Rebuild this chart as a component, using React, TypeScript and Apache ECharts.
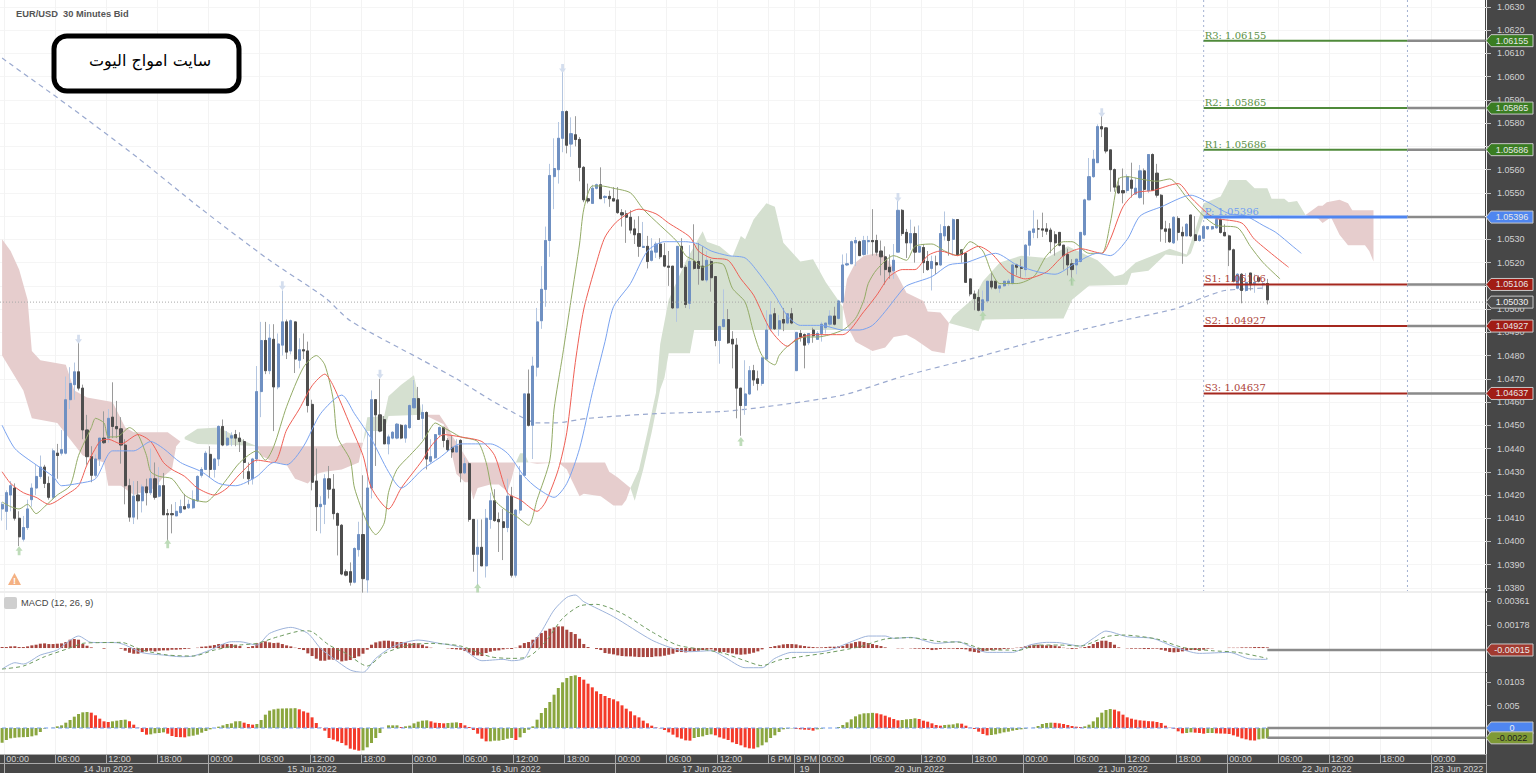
import React, { useEffect, useRef } from "react";
import * as echarts from "echarts";

// Candles in pips above 1.0000: [open, close, low, high]
const candles = [
[414,416,409,417],[413,421,405,422],[420,424,413,426],[423,410,409,425],[410,402,398,413],[401,406,400,411],[406,414,405,418],[418,423,415,425],[423,428,420,433],[428,432,427,437],
[432,425,423,433],[425,419,418,428],[419,439,418,440],[438,437,427,442],[438,439.5,437,448],[438,461,437.5,471],[461,468,457,475],[467.5,473,461,477],[473,466,465,485.5],[466,448,444,467.5],
[448,436.5,433,454.5],[436.5,428.5,425.5,441],[428.5,435.5,427.5,437.5],[435.5,444.5,432.5,444.5],[444.5,442.5,442,456],[444.5,453,442.5,457],[453.5,449.5,444.5,468.5],[449.5,448.5,444.5,460.5],[448.5,441.5,433.5,453.5],[441.5,424,416,444],
[424,410.5,408.5,427],[410.5,419.5,407.5,426],[420,417.5,409.5,426],[417.5,423.5,412.5,424.5],[423.5,421,415.5,427],[421,427,420,440],[427,419,418,434],[419.5,424,419,432],[424,411.5,411.5,429.5],[412,411.5,400.5,414],
[412,411.5,403.5,416],[411,413,411,417],[412.5,415,412,418],[415,414,414,420.5],[414.5,416,414,418],[414.5,418,414,422],[417.5,428,417,428.5],[428.5,431,427.5,432],[431,438,431,439],[437.5,431,427.5,441],
[431,435.5,427.5,436],[435.5,449.5,432.5,450],[449.5,441.5,441,452.5],[441.5,444.5,441,447.5],[444.5,445.5,441,447],[446,444.5,441,448],[444.5,443,438.5,447],[443,434,427,444],[430,427,424.5,434],[427,435.5,424.5,436],
[435.5,464.5,434,475.5],[464.5,486.5,453.5,494.5],[486.5,473.5,472,494.5],[473.5,487.5,472,493.5],[487,466.5,447.5,493.5],[466.5,485,465.5,489.5],[484.5,494.5,480,508],[494.5,481.5,478.5,495.5],[482,495,480.5,495.5],[494.5,478.5,472.5,494.5],
[478,482.5,474.5,487.5],[482.5,482,478.5,489.5],[482,458.5,455.5,486],[459,425.5,422,461],[426,415,404.5,440],[415,416,403.5,419.5],[416,427,407.5,429],[427,422.5,418.5,432.5],[422.5,412,409.5,429],[412,407,394,412.5],
[407,386,385.5,407.5],[387,385.5,385,388],[387,382.5,381,391],[382.5,397,382,397.5],[396.5,403,393.5,408.5],[403,384,378,428.5],[383.5,423,378,447],[423,461,418.5,465],[461,454.5,432.5,461],[454.5,447.5,447,470],
[452.5,442,442,454],[442,445,437.5,446],[444.5,447,444,447.5],[444.5,450.5,444,451],[450,444.5,444,450.5],[444.5,450,442.5,450.5],[449,458.5,448.5,459],[457.5,461.5,457.5,469.5],[461.5,452.5,452.5,466.5],[453,455.5,444,459],
[455.5,435.5,431,456],[434.5,436.5,433.5,444],[436,446,435.5,446],[446,449,445,449.5],[449,443.5,440.5,449.5],[443.5,439.5,438.5,444.5],[440.5,438.5,436,445.5],[438.5,441,438.5,444],[443.5,429.5,425.5,444],[429.5,433.5,429,436],
[433.5,409.5,408.5,434],[409.5,394.5,387,409.5],[394.5,397.5,381,409.5],[397.5,389.5,389.5,409.5],[389.5,410,384.5,414],[409.5,417.5,405.5,421],[417.5,409,408.5,422.5],[409.5,408.5,395.5,412.5],[408.5,406,392,414],[406,419.5,404,427],
[419.5,385.5,384.5,423.5],[385.5,413.5,384.5,414],[413.5,428.5,412,432.5],[428.5,463.5,428.5,463.5],[463.5,450,449.5,474],[450,475.5,435.5,479.5],[475,494.5,471,500.5],[495,508.5,491.5,518.5],[508.5,529.5,501,535.5],[529.5,557.5,522.5,562.5],
[557,560.5,543,573.5],[560,573.5,554,580.5],[573.5,585,567.5,602],[585,570.5,567,585.5],[571,575.5,565.5,582.5],[575,573,570,583],[573,561,555,574],[561,547,546,561.5],[547.5,546.5,545.5,554],[545.5,552,545.5,553.5],
[552,553.5,551.5,554],[553.5,547.5,547.5,561],[548,548.5,545.5,549],[548.5,547.5,544,551],[547.5,546.5,546.5,552.5],[547,541.5,541,552.5],[541.5,540.5,535.5,543],[541,539.5,528.5,542.5],[539.5,534,532.5,542.5],[534.5,532,528,538.5],
[532.5,527,522.5,540],[526.5,527,526.5,537.5],[527,520.5,517.5,531.5],[521,525,520.5,530.5],[524.5,528,522,529],[528,522.5,521.5,530.5],[523,518.5,518,528.5],[518.5,518,510,525],[518.5,500.5,500,518.5],[500.5,527,494.5,527],
[527,518,517.5,530.5],[518,502,500.5,519],[502.5,520.5,500,527.5],[520.5,517.5,517,536.5],[520.5,517.5,510.5,528.5],[518.5,512.5,512.5,527],[512.5,521,511.5,525],[520.5,513.5,507.5,521.5],[514,486.5,484,514],[486.5,492.5,476.5,493],
[492.5,495.5,492,508.5],[495.5,485.5,485,500],[487,485,474.5,490.5],[484.5,466,453,487.5],[466,458.5,445.5,466],[458.5,463.5,454.5,478],[463.5,473.5,463,475.5],[473.5,469.5,467,476],[470,468,465,473.5],[468,479,467,479.5],
[478.5,491,478.5,499.5],[491.5,497.5,490.5,503.5],[498,491.5,491,500.5],[491.5,495,488.5,497.5],[495.5,494,490.5,500.5],[494,498,493.5,498],[498,494,493.5,500.5],[473.5,490,473.5,490],[489.5,488,486,491],[489,484.5,474.5,489.5],
[485.5,489.5,484.5,489.5],[491,488.5,485.5,492],[487,489.5,487,490.5],[489.5,493.5,486,494.5],[492,494,489.5,494],[493.5,497,492.5,499.5],[497,493.5,493,501],[496,503.5,495.5,504],[503,519,502.5,523.5],[519,519.5,518.5,524],
[519.5,529,519.5,529.5],[528.5,529.5,518.5,531],[529,523,523,529.5],[523.5,529.5,523,531.5],[529,529.5,523.5,531.5],[529.5,529,523,543],[529.5,524.5,523,532],[525,522.5,514.5,529.5],[522.5,517,510.5,527],[518,516,513,523.5],
[516.5,521,513,528],[524.5,542.5,524.5,546.5],[542.5,532.5,531.5,543],[533,528.5,522,534.5],[528.5,532.5,525.5,538.5],[532.5,524.5,520,535.5],[524.5,527,524.5,536],[526.5,520,515.5,528],[520.5,517,516.5,525],[517.5,520.5,508,523],
[520,519,515,523],[519,532.5,518.5,536.5],[531.5,535.5,529.5,542],[535.5,529.5,523,536],[530,538.5,523,539],[538.5,523.5,523,538.5],[525.5,523.5,520,525.5],[524,511.5,511.5,524],[513,506.5,505.5,513],[506.5,504.5,499.5,508],
[505,499.5,499,508.5],[499.5,504,498.5,508],[503.5,512,503,512],[512,509.5,508.5,515.5],[512,509,508.5,512],[509,510,507,510],[510,512,509.5,512],[511,512,510,513],[511,519,510.5,519.5],[519,518,514.5,519.5],
[518,517.5,513.5,521.5],[517,527.5,514,528],[527.5,533.5,523,533.5],[533,534.5,530.5,542.5],[534.5,534.5,530.5,538.5],[534.5,534,531,541.5],[534.5,533.5,532,537],[534,529,524,535],[532,528.5,523,533.5],[533,527.5,527,533],
[527.5,523,517,527.5],[523.5,519,514.5,526],[519.5,517,510.5,521.5],[519,521.5,515,521.5],[520.5,533,520,533],[532,547,531.5,547.5],[547,557,547,565],[557,564.5,556.5,568.5],[563,578.5,563,579.5],[578.5,577.5,574,583],
[578,568,567,578],[568.5,560,550.5,568.5],[560,552.5,550.5,560.5],[553,550,549.5,556.5],[551,550,545.5,560.5],[551,557,550,558],[555.5,552,548,563],[549.5,552,549.5,556.5],[548,559.5,547.5,562],[559.5,551.5,545,560.5],
[551,566.5,550,566.5],[566.5,551,551,567],[558.5,549,548,562.5],[549,534.5,529,549.5],[534.5,533.5,528.5,538],[534.5,529,528.5,537],[528.5,539.5,528,540],[539,533,529.5,540],[533,531.5,519.5,535.5],[531.5,536.5,531.5,537],
[540.5,531.5,531,540.5],[532,529.5,529.5,540],[529.5,531.5,529,532],[530.5,535.5,530.5,536],[534.5,535.5,534,535.5],[534.5,535.5,534,535.5],[535,538.5,534.5,539],[538.5,533,532.5,539],[533,531.5,531.5,536.5],[531.5,525.5,518.5,532],
[525.5,512,511.5,526],[509,515,508.5,515.5],[515,508,502.5,515.5],[508,511.5,507.5,515.5],[515.5,510.5,508,515.5],[511,511.5,507,515],[513.5,512,511.5,514.5],[510.5,511,508.5,512],[511,504,502,513],
];

// Moving averages as [bar, pips] read at the turns of each curve
const fastMa = [[0,417],[2,415],[4,414],[6,416],[8,412],[10,415],[13,420],[16,424],[18,437],[21,449],[22,453],[24,451],[25,445],[27,445],[30,449],[32,446],[34,437],[35,430],[37,428],[40,427],[43,420],[45,418],[48,417],[50,420],[53,427],[56,434],[60,439],[62,435],[64,441],[67,458],[71,475],[74,480],[76,476],[78,461],[79,445],[82,435],[83,423],[86,408],[88,403],[90,408],[91,421],[93,431],[96,437],[99,443],[101,449],[102,451],[104,449],[106,447],[108,445],[112,443],[114,434],[116,418],[119,413],[121,411],[124,407],[126,418],[129,435],[130,457],[132,480],[134,504],[136,528],[137,543],[139,553],[141,553],[144,552],[148,550],[151,543],[155,536],[159,529],[161,523],[163,521],[165,518],[168,520],[170,519],[172,509],[175,503],[177,490],[179,480],[182,476],[183,480],[185,484],[189,488],[192,488],[198,491],[201,496],[203,504],[204,511],[206,517],[210,523],[213,521],[215,527],[219,528],[222,525],[225,523],[228,529],[231,525],[233,516],[235,511],[239,511],[243,514],[246,523],[250,529],[252,529],[256,524],[259,524],[261,537],[263,556],[265,557],[268,556],[272,555],[275,556],[279,548],[283,540],[286,536],[291,535],[294,527],[297,520],[301,513]];
const midMa = [[0,430],[2,425],[5,421],[8,419],[11,416],[15,420],[18,424],[20,433],[23,443],[25,444],[28,442],[32,446],[35,443],[38,434],[40,431],[43,428],[46,423],[50,420],[53,423],[56,429],[60,435],[64,434],[67,448],[70,457],[73,467],[76,472],[78,467],[82,450],[85,437],[87,423],[91,414],[94,423],[99,435],[101,441],[104,446],[108,445],[113,443],[116,437],[119,421],[122,418],[126,413],[128,417],[131,431],[133,447],[135,477],[137,500],[140,520],[142,531],[145,538],[150,543],[154,541],[157,537],[162,531],[164,525],[167,522],[171,521],[174,513],[177,506],[181,491],[185,484],[187,487],[191,489],[198,489],[203,499],[206,506],[209,514],[212,517],[215,517],[218,523],[221,525],[225,523],[230,527],[233,524],[237,516],[241,513],[246,516],[250,523],[254,526],[259,524],[261,530],[264,544],[267,550],[271,551],[277,554],[280,548],[284,541],[286,539],[292,537],[295,530],[303,518]];
const slowMa = [[0,450],[3,440],[8,433],[12,428],[14,424],[18,425],[22,427],[26,439],[31,439],[35,443],[38,440],[42,434],[47,430],[51,425],[55,424],[60,428],[64,434],[67,433],[71,441],[75,455],[80,463],[83,455],[87,444],[91,430],[94,423],[99,431],[103,436],[108,442],[115,442],[119,438],[123,428],[126,423],[130,419],[133,425],[136,440],[139,464],[142,486],[144,501],[148,511],[152,525],[156,529],[161,529],[164,528],[167,525],[171,523],[175,522],[178,516],[182,506],[185,497],[188,493],[193,493],[198,491],[202,491],[205,493],[208,499],[211,506],[213,510],[219,514],[223,519],[227,520],[234,524],[239,519],[244,516],[248,515],[253,520],[258,524],[261,523],[265,530],[268,540],[273,544],[280,549],[284,546],[289,541],[293,540],[297,536],[300,533],[304,527],[306,524]];
const longMa = [[0,608],[16,587],[32,565],[47,543],[63,521],[76,505],[82,495],[99,478],[107,470],[115,461],[123,453],[126,451],[130,451],[138,453],[154,455],[170,456],[180,458],[198,463],[212,471],[229,479],[245,487],[261,494],[276,500],[283,505],[288,508],[297,509]];

// Cloud edges as [bar, pips]
const redAUp = [[0,530],[2,525],[4,517],[6,504],[7,482],[9,478],[15,476],[17,465],[20,462],[26,460],[29,449],[31,447],[39,447],[42,443]];
const redALow = [[0,480],[5,465],[7,453],[13,451],[16,444],[19,437],[24,434],[25,424],[28,424],[31,420],[36,423],[38,428],[40,431],[41,441],[42,443]];
const greenAUp = [[43,445],[46,448.5],[51,449],[58,442.5],[60,441]];
const greenALow = [[43,444],[46,442],[55,441.5],[60,441]];
const redBUp = [[60,441],[79,441],[81,442.5],[85,442.5]];
const redBLow = [[60,441],[61,437],[64,434],[67,433],[69,427],[72,425],[74,429],[76,430],[80,431],[84,434],[85,442.5]];
const greenCUp = [[85,442.5],[86,453.5],[90,454],[91,462.5],[94,467.5],[97,471.5],[98,462.5],[99,454.5]];
const greenCLow = [[85,442.5],[86,447.5],[90,447.5],[91,454],[99,454.5]];
const redDUp = [[100,454.5],[103,454.5],[105,449],[106,445.5],[109,437],[110,434],[121,434]];
const redDLow = [[100,454],[104,450.5],[105,444],[106,437],[107,429],[109,425.5],[110,425.5],[111,418],[112,423],[115,424.5],[117,424.5],[119,421.5],[120,427],[121,434]];
const greenEUp = [[121,434],[122,438],[123,438],[124,434]];
const greenELow = [[121,434],[124,434]];
const redFUp = [[124,434],[126,433.5],[131,434],[142,434],[143,430],[145,427.5],[147,424.5],[148,423]];
const redFLow = [[124,434],[131,434],[133,431],[134,427],[136,419.5],[137,420.5],[141,419.5],[144,415.5],[146,415.5],[147,418],[148,423]];
const greenGUp = [[148,423],[150,431],[152,447],[154,464],[155,485],[157,504],[161,520.5],[165,533.5],[166,529],[169,527],[172,522.5],[174,531.5],[175,530],[177,538.5],[180,545.5],[182,544],[184,528.5],[188,520.5],[191,521.5],[194,511.5],[198,501]];
const greenGLow = [[148,423],[149,417.5],[151,431],[153,447],[155,465.5],[156,470.5],[157,481],[162,481],[163,491],[198,491]];
const redHUp = [[198,501],[199,513],[201,520],[203,523],[206,524],[208,523],[211,514],[213,507],[217,503.5],[218,499],[221,498.5],[223,494]];
const redHLow = [[198,501],[199,493],[201,486],[205,482],[208,483.5],[210,488],[213,489],[215,487],[219,482],[222,481],[223,494]];
const greenIUp = [[223,494],[224,497],[229,505],[231,512],[235,520],[240,523],[246,522],[251,527],[258,521],[262,514],[264,515],[267,520],[271,523],[275,526],[279,523.5],[281,534],[283,545.5],[287,548.5],[289,555.5],[293,555.5],[295,552],[298,552],[299,547.5],[302,547.5],[303,546],[305,546.5],[307,540.5]];
const greenILow = [[223,494],[228,491.5],[230,490.5],[231,495.5],[250,496],[252,504],[256,510],[265,510.5],[266,515.5],[270,516.5],[274,523.5],[279,522.5],[280,524],[283,540],[307,540.5]];
const redJUp = [[307,540.5],[310,544.5],[311,544.5],[312,546],[315,547],[317,545.5],[318,542.5],[323,542.5]];
const redJLow = [[307,540.5],[310,539],[311,537],[313,539.5],[315,532],[317,527.5],[321,527.5],[322,525],[323,520.5]];
const cloudBands = [[redAUp,redALow,0],[greenAUp,greenALow,1],[redBUp,redBLow,0],[greenCUp,greenCLow,1],[redDUp,redDLow,0],[greenEUp,greenELow,1],[redFUp,redFLow,0],[greenGUp,greenGLow,1],[redHUp,redHLow,0],[greenIUp,greenILow,1],[redJUp,redJLow,0]];

// Fractal arrows as [bar, pips]
const arrowsDown = [[18,487],[66,510],[89,472],[132,603.5],[211,548],[259,584.5]];
const arrowsUp = [[4,396],[39,399],[112,380],[174,443],[231,497],[252,512]];

// Pivot levels
const pivotNames = ["R3","R2","R1","P","S1","S2","S3"];
const pivotValues = [1.06155,1.05865,1.05686,1.05396,1.05106,1.04927,1.04637];
const pivotStartBar = 283;
const pivotEndBar = 331;
const lastBar = 298;
const lastPrice = 1.0503;

// MACD panel, in units of MACD_UNIT
const MACD_UNIT = 2.574e-5;
const macdHist = [
3,3,5,5,3,3,5,8,10,13,
14,12,12,13,14,18,25,27,25,12,
7,2,0,0,-2,0,0,0,-2,-8,
-14,-17,-17,-13,-10,-8,-10,-8,-7,-7,
-5,-5,-4,-3,-2,0,1,4,5,7,
9,12,12,12,12,10,6,0,3,6,
14,17,20,17,15,16,12,8,5,1,
-3,-6,-16,-24,-32,-38,-38,-35,-35,-35,
-40,-38,-36,-30,-25,-17,-5,10,17,20,
22,22,20,18,18,17,14,15,14,10,
5,1,0,0,0,-1,-3,-4,-5,-9,
-14,-22,-22,-24,-15,-11,-8,-7,-4,-2,
-3,1,8,15,18,25,33,45,52,58,
62,65,65,55,48,42,28,12,3,0,
-3,-6,-15,-17,-19,-22,-24,-25,-25,-26,
-27,-27,-27,-27,-25,-25,-23,-20,-17,-12,
-12,-13,-10,-10,-8,-6,-5,-4,-8,-12,
-12,-14,-16,-19,-20,-19,-17,-14,-10,-4,
0,3,6,8,11,12,12,11,8,6,
4,3,2,2,3,4,4,5,6,12,
14,18,20,18,15,12,9,6,2,0,
0,-1,-1,0,-1,-2,-2,-3,-3,-6,
-5,-3,-2,-2,-2,-3,-3,-4,-10,-12,
-14,-10,-8,-6,-5,-5,-3,-2,-1,1,
2,5,8,10,10,9,8,9,7,5,
1,-1,-3,-2,1,3,6,12,18,22,
22,18,10,2,0,-1,-2,-2,-2,-3,
-3,-2,-2,-5,-8,-12,-13,-12,-10,-8,
-6,-6,-8,-5,-2,-1,0,0,0,1,
1,1,2,2,2,3,3,3,2];
const macdLine = [[0,-63],[3,-44],[5,-48],[9,-21],[13,-6],[15,14],[18,36],[21,17],[27,16],[29,9],[33,-14],[38,-21],[42,-26],[45,-24],[49,-6],[54,19],[56,19],[60,9],[63,44],[68,62],[72,44],[75,-1],[78,-31],[82,-66],[85,-73],[88,-31],[92,4],[98,24],[103,14],[108,2],[113,-38],[118,-34],[120,-38],[123,-31],[125,14],[127,49],[130,114],[133,152],[135,159],[137,139],[144,94],[153,24],[158,-1],[162,-11],[167,-8],[170,-26],[175,-59],[179,-59],[182,-31],[186,-13],[191,-13],[195,-6],[201,24],[204,36],[208,36],[210,29],[214,32],[220,14],[225,19],[229,-1],[232,-13],[238,-13],[242,9],[246,17],[249,16],[254,6],[257,29],[260,51],[265,34],[271,29],[276,4],[282,-16],[289,-13],[294,-33],[298,-34]];
const macdSignal = [[0,-63],[5,-54],[10,-26],[15,-4],[19,14],[22,16],[28,17],[33,-6],[39,-21],[45,-24],[50,-6],[56,9],[60,14],[65,34],[71,52],[73,49],[77,9],[81,-16],[86,-54],[90,-16],[96,9],[101,14],[108,6],[115,-26],[120,-31],[124,-26],[128,19],[132,89],[136,126],[140,131],[146,104],[153,49],[159,9],[166,-6],[170,-16],[175,-38],[179,-53],[183,-36],[188,-26],[195,-13],[202,4],[208,27],[214,31],[221,19],[226,17],[232,-6],[237,-6],[239,-8],[244,9],[249,9],[254,6],[260,34],[264,39],[272,27],[278,2],[285,-8],[291,-13],[298,-31]];
const macdTicks = [0.00178,0.00361];
const macdLast = -0.00015;

// Lower oscillator, in units of OSC_UNIT
const OSC_UNIT = 7.464e-5;
const oscBars = [
-44,-36,-31,-29,-28,-27.5,-27,-25,-22,-12,
-2,0,1,5,8,16,24,34,42,47,
48,46,38,28,20,18,20,22,24,25,
20,10,1,-12,-20,-19,-16,-15,-13,-17,
-24,-27,-27.5,-28,-25,-23,-20,-14,-9,-4,
0,4,8,12,14,20,20.5,16,12,10,
12,24,40,52,56,58,58.5,59,59,59.5,
56,50,46,32,15,1,-8,-30,-35,-40,
-45,-52,-62,-65,-68,-67,-58,-45,-30,-15,
0,8,8,8,3,5,7,14,19,22,
23,20,16,15,14,15,16,17,15,8,
3,-6,-17,-32,-40,-40,-38,-38,-36,-32,
-30,-36,-28,-15,-5,5,25,45,60,78,
100,120,137,150,156,158,153,145,133,122,
110,102,96,90,86,80,68,58,50,38,
32,22,14,7,2,-1,-6,-13,-20,-28,
-32,-37,-38,-30,-27,-25,-21,-19,-22,-28,
-32,-36,-43,-48,-52,-58,-61,-62,-58,-52,
-43,-30,-22,-12,-4,-2,-1,-3,-4,-5,
-5.5,-8,-4,-2,0,0,0,3,9,17,
26,35,41,44,44.5,45.5,44,41,37,32,
27,23,24,26,27,29,27,22,19,14,
9,7,9,10,11,14,13,7,1,-3,
-11,-18,-22,-21,-19,-16,-13,-11,-8,-6,
-4,-2,0,1,6,12,15,16,15.5,14,
12,9,6,4,3,5,10,20,32,46,
54,57,55,50,40,32,28,25,23,22,
20.5,20,18,15,7,1,-2,-10,-16,-15,
-13,-14,-15,-17,-15,-15,-16,-16.5,-17,-18,
-22,-26,-31,-34,-37,-37.5,-34,-32,-31];
const oscTicks = [0.005,0.0103];
const oscLast = -0.0022;

// Axis ticks
const priceTicks = [1.038,1.039,1.04,1.041,1.042,1.043,1.044,1.045,1.046,1.047,1.048,1.049,1.05,1.051,1.052,1.053,1.054,1.055,1.056,1.057,1.058,1.059,1.06,1.061,1.062,1.063];
// Tick labels that the pivot tags cover completely in the reference are not drawn
const coveredPriceLabels = [1.051,1.054,1.057];
const timeTicks: [number,string][] = [[1,"00:00"],[13,"06:00"],[25,"12:00"],[37,"18:00"],[49,"00:00"],[61,"06:00"],[73,"12:00"],[85,"18:00"],[97,"00:00"],[109,"06:00"],[121,"12:00"],[133,"18:00"],[145,"00:00"],[157,"06:00"],[169,"12:00"],[181,"6 PM"],[187,"9 PM"],[193,"00:00"],[205,"06:00"],[217,"12:00"],[229,"18:00"],[241,"00:00"],[253,"06:00"],[265,"12:00"],[277,"18:00"],[289,"00:00"],[301,"06:00"],[313,"12:00"],[325,"18:00"],[337,"00:00"]];
const dayLabels: [number,string][] = [[25,"14 Jun 2022"],[73,"15 Jun 2022"],[121,"16 Jun 2022"],[166,"17 Jun 2022"],[189,"19"],[216,"20 Jun 2022"],[264,"21 Jun 2022"],[312,"22 Jun 2022"],[343,"23 Jun 2022"]];
const dayTicks = [1,49,97,145,187,193,241,289,337];
const BAR_SLOTS = 350;

const FONT = '"Liberation Sans", Arial, sans-serif';
const px = (p: number) => 1 + p / 10000;
const toPrice = (rows: number[][]) => rows.map((r) => [r[0], px(r[1])]);

function makeCategories(list: [number,string][]) {
  const out = new Array(BAR_SLOTS).fill("");
  list.forEach(([i, t]) => { out[i] = t; });
  return out;
}

function tagShape(api: any, params: any, value: number, text: string, fill: string, color: string) {
  const y = api.coord([lastBar, value])[1];
  const R = params.coordSys.x + params.coordSys.width - 1;
  return [
    { type: "polygon", z2: 20, shape: { points: [[R + 1, y], [R + 6, y - 6], [R + 48, y - 6], [R + 48, y + 6], [R + 6, y + 6]] }, style: { fill, stroke: "#c8c8c8", lineWidth: 1 } },
    { type: "text", z2: 21, style: { text, x: R + 27, y, fill: color, font: "9px " + FONT, align: "center", verticalAlign: "middle" } },
  ];
}

function tailSeries(grid: number, rows: [number,string,string,string][], startBar: number) {
  return {
    type: "custom", xAxisIndex: grid, yAxisIndex: grid, silent: true, z: 12, clip: false,
    data: rows.map((r) => [startBar, r[0]]),
    renderItem: (params: any, api: any) => {
      const row = rows[params.dataIndex];
      const p = api.coord([startBar, row[0]]);
      const R = params.coordSys.x + params.coordSys.width - 1;
      return {
        type: "group",
        children: [
          { type: "line", shape: { x1: p[0], y1: p[1], x2: R, y2: p[1] }, style: { stroke: "#8a8a8a", lineWidth: 2.5 } },
          ...tagShape(api, params, row[0], row[1], row[2], row[3]),
        ],
      };
    },
  };
}

export default function App() {
  const ref = useRef<HTMLDivElement>(null);
  useEffect(() => {
    document.body.style.margin = "0";
    const chart = echarts.init(ref.current!, undefined, { renderer: "svg" });
    const timeCats = makeCategories(timeTicks);
    const dayCats = makeCategories(dayLabels);
    const timeSet = new Set(timeTicks.map((t) => t[0]));
    const daySet = new Set(dayTicks);
    const dayLabelSet = new Set(dayLabels.map((t) => t[0]));
    const isTime = (i: number) => timeSet.has(i);
    const grid = (top: number, height: number) => ({ left: -3, width: 1489, top, height });
    const plainX = (gridIndex: number) => ({
      type: "category", gridIndex, data: timeCats, boundaryGap: true,
      axisLine: { show: false, onZero: false }, axisTick: { show: false }, axisLabel: { show: false },
      splitLine: { show: true, interval: isTime, lineStyle: { color: "#f3f3f3", width: 1 } },
    });
    const rightY = (gridIndex: number, min: number, max: number, ticks: number[], labels: number[], fmt: (v: number) => string, splits: boolean) => ({
      type: "value", gridIndex, position: "right", min, max, scale: true,
      axisLine: { show: false, onZero: false },
      axisTick: { show: true, length: 5, customValues: ticks, lineStyle: { color: "#bbb" } },
      axisLabel: { customValues: labels, formatter: fmt, margin: 11, color: "#d2d2d2", fontSize: 9, fontFamily: FONT, showMinLabel: true, showMaxLabel: true },
      splitLine: { show: splits, lineStyle: { color: "#f5f5f5", width: 1 } },
    });
    const maLine = (rows: number[][], color: string) => ({
      type: "line", data: toPrice(rows), xAxisIndex: 0, yAxisIndex: 0, showSymbol: false, smooth: 0.25, silent: true, z: 6,
      lineStyle: { color, width: 1 },
    });
    const pivotColor = (i: number) => (i < 3 ? "#4f8a3a" : i === 3 ? "#4f86f0" : "#a5281f");
    const pivotText = (i: number) => (i < 3 ? "#5a9144" : i === 3 ? "#6f9cf2" : "#ad3f38");
    const tagFill = (i: number) => (i < 3 ? "#3a7d22" : i === 3 ? "#4f86f0" : "#a11d15");

    chart.setOption({
      animation: false,
      backgroundColor: "#ffffff",
      grid: [grid(0, 591), grid(593, 79), grid(673, 81), grid(763, 10)],
      xAxis: [
        plainX(0),
        plainX(1),
        {
          ...plainX(2),
          axisLine: { show: true, onZero: false, lineStyle: { color: "#aaa" } },
          axisTick: { show: true, interval: isTime, length: 9, lineStyle: { color: "#aaa" } },
          axisLabel: { show: true, interval: isTime, color: "#d2d2d2", fontSize: 9, fontFamily: FONT, align: "left", verticalAlign: "top", margin: 0 },
        },
        {
          type: "category", gridIndex: 3, data: dayCats, position: "top", boundaryGap: true,
          axisLine: { show: true, onZero: false, lineStyle: { color: "#aaa" } },
          axisTick: { show: true, inside: true, interval: (i: number) => daySet.has(i), length: 10, lineStyle: { color: "#aaa" } },
          axisLabel: { show: true, inside: true, interval: (i: number) => dayLabelSet.has(i), color: "#d2d2d2", fontSize: 9, fontFamily: FONT, align: "center", verticalAlign: "top", margin: 1 },
          splitLine: { show: false },
        },
      ],
      yAxis: [
        rightY(0, 1.03787, 1.0633, priceTicks, priceTicks.filter((t) => !coveredPriceLabels.includes(t)), (v: number) => v.toFixed(4), true),
        rightY(1, -0.00185, 0.00425, macdTicks, macdTicks, (v: number) => v.toFixed(5), false),
        rightY(2, -0.00582, 0.012315, oscTicks, oscTicks, (v: number) => String(v), false),
        { type: "value", gridIndex: 3, show: false },
      ],
      graphic: [
        { type: "rect", z: -1, silent: true, shape: { x: 1485, y: 0, width: 51, height: 773 }, style: { fill: "#474747" } },
        { type: "rect", z: -1, silent: true, shape: { x: 0, y: 754, width: 1485, height: 19 }, style: { fill: "#474747" } },
        { type: "rect", z: -1, silent: true, shape: { x: 0, y: 591.5, width: 1485, height: 1 }, style: { fill: "#dedede" } },
        { type: "rect", z: -1, silent: true, shape: { x: 0, y: 672, width: 1485, height: 1 }, style: { fill: "#dedede" } },
        { type: "text", z: 30, silent: true, style: { text: "EUR/USD  30 Minutes Bid", x: 16, y: 14, fill: "#555", font: "bold 9.3px " + FONT, verticalAlign: "middle" } },
        { type: "rect", z: 30, silent: true, shape: { x: 54, y: 36, width: 185, height: 55, r: 13 }, style: { fill: "#fff", stroke: "#000", lineWidth: 5 } },
        { type: "text", z: 31, silent: true, style: { text: "سايت امواج اليوت", x: 150, y: 60, fill: "#000", font: '16px "DejaVu Sans"', align: "center", verticalAlign: "middle" } },
        { type: "polygon", z: 30, silent: true, shape: { points: [[14.5, 573], [21, 585], [8, 585]] }, style: { fill: "#f4b183" } },
        { type: "text", z: 31, silent: true, style: { text: "!", x: 14.5, y: 580.5, fill: "#fff", font: "bold 9px " + FONT, align: "center", verticalAlign: "middle" } },
        { type: "rect", z: 30, silent: true, shape: { x: 4, y: 597, width: 13, height: 12, r: 2 }, style: { fill: "#cfcfcf" } },
        { type: "text", z: 30, silent: true, style: { text: "MACD (12, 26, 9)", x: 21, y: 603, fill: "#444", font: "9.3px " + FONT, verticalAlign: "middle" } },
      ],
      series: [
        {
          type: "custom", xAxisIndex: 0, yAxisIndex: 0, silent: true, z: 1,
          data: cloudBands.map((b, i) => [i]),
          renderItem: (params: any, api: any) => {
            const band: any = cloudBands[params.dataIndex];
            const pts = [...band[0], ...[...band[1]].reverse()].map((p: number[]) => api.coord([p[0], px(p[1])]));
            return { type: "polygon", shape: { points: pts }, style: { fill: band[2] ? "#d5e0d0" : "#e6cdcd" } };
          },
        },
        {
          type: "custom", xAxisIndex: 0, yAxisIndex: 0, silent: true, z: 2,
          data: [[pivotStartBar], [pivotEndBar]],
          renderItem: (params: any, api: any) => {
            const x = api.coord([api.value(0), 1.05])[0];
            const cs = params.coordSys;
            return { type: "line", shape: { x1: x, y1: cs.y, x2: x, y2: cs.y + cs.height }, style: { stroke: "#a3b1d1", lineWidth: 1, lineDash: [2, 3] } };
          },
        },
        {
          type: "line", data: toPrice(longMa), xAxisIndex: 0, yAxisIndex: 0, showSymbol: false, smooth: 0.25, silent: true, z: 3,
          lineStyle: { color: "#9aa9cf", width: 1.2, type: [5, 4] },
        },
        {
          type: "candlestick", xAxisIndex: 0, yAxisIndex: 0, silent: true, z: 4, barWidth: 2,
          data: candles.map((c) => c.map(px)),
          itemStyle: { color: "#b4c6e0", color0: "#9a9a9a", borderColor: "#b4c6e0", borderColor0: "#9a9a9a", borderColorDoji: "#9a9a9a", borderWidth: 1 },
        },
        {
          type: "candlestick", xAxisIndex: 0, yAxisIndex: 0, silent: true, z: 5, barWidth: 2.6,
          data: candles.map((c) => [px(c[0]), px(c[1]), px(Math.min(c[0], c[1])), px(Math.max(c[0], c[1]))]),
          itemStyle: { color: "#6f90c2", color0: "#4e4e4e", borderColor: "#6f90c2", borderColor0: "#4e4e4e", borderColorDoji: "#4e4e4e", borderWidth: 1 },
        },
        maLine(fastMa, "#93ab66"),
        maLine(midMa, "#ef5f55"),
        maLine(slowMa, "#7aa3f0"),
        {
          type: "scatter", xAxisIndex: 0, yAxisIndex: 0, silent: true, z: 6, symbol: "path://M5 12L0 6H3V0H7V6H10Z", symbolSize: [7, 9],
          data: toPrice(arrowsDown), itemStyle: { color: "#c9d6ea" },
        },
        {
          type: "scatter", xAxisIndex: 0, yAxisIndex: 0, silent: true, z: 6, symbol: "path://M5 0L10 6H7V12H3V6H0Z", symbolSize: [7, 9],
          data: toPrice(arrowsUp), itemStyle: { color: "#aed3a8" },
        },
        {
          type: "custom", xAxisIndex: 0, yAxisIndex: 0, silent: true, z: 10, clip: false,
          data: pivotValues.map((v) => [pivotStartBar, v]),
          renderItem: (params: any, api: any) => {
            const i = params.dataIndex;
            const v = pivotValues[i];
            const a = api.coord([pivotStartBar, v]);
            const b = api.coord([pivotEndBar, v]);
            const R = params.coordSys.x + params.coordSys.width - 1;
            return {
              type: "group",
              children: [
                { type: "line", shape: { x1: a[0], y1: a[1], x2: b[0], y2: a[1] }, style: { stroke: pivotColor(i), lineWidth: i === 3 ? 3 : 2 } },
                { type: "line", shape: { x1: b[0], y1: a[1], x2: R, y2: a[1] }, style: { stroke: "#8a8a8a", lineWidth: 2.5 } },
                { type: "text", style: { text: pivotNames[i] + ": " + v.toFixed(5), x: a[0] + 1, y: a[1] - 5.5, fill: pivotText(i), font: '10px "DejaVu Serif"', verticalAlign: "middle" } },
                ...tagShape(api, params, v, v.toFixed(5), tagFill(i), "#e6e6e6"),
              ],
            };
          },
        },
        {
          type: "custom", xAxisIndex: 0, yAxisIndex: 0, silent: true, z: 9, clip: false,
          data: [[0, lastPrice]],
          renderItem: (params: any, api: any) => {
            const a = api.coord([0, lastPrice]);
            const R = params.coordSys.x + params.coordSys.width - 1;
            return {
              type: "group",
              children: [
                { type: "line", shape: { x1: 0, y1: a[1], x2: R, y2: a[1] }, style: { stroke: "#a8a8a8", lineWidth: 1, lineDash: [1, 2] } },
                ...tagShape(api, params, lastPrice, lastPrice.toFixed(5), "#4d4d4d", "#f0f0f0"),
              ],
            };
          },
        },
        {
          type: "bar", xAxisIndex: 1, yAxisIndex: 1, silent: true, z: 3, barWidth: 3,
          data: macdHist.map((v) => v * MACD_UNIT), itemStyle: { color: "#a8453f" },
        },
        {
          type: "line", xAxisIndex: 1, yAxisIndex: 1, silent: true, z: 4, showSymbol: false, smooth: 0.25,
          data: macdLine.map((r) => [r[0], r[1] * MACD_UNIT]), lineStyle: { color: "#9db3da", width: 1 },
        },
        {
          type: "line", xAxisIndex: 1, yAxisIndex: 1, silent: true, z: 4, showSymbol: false, smooth: 0.25,
          data: macdSignal.map((r) => [r[0], r[1] * MACD_UNIT]), lineStyle: { color: "#6d9a5f", width: 1, type: [4, 3] },
        },
        tailSeries(1, [[macdLast, "-0.00015", "#a23a30", "#ececec"]], lastBar),
        {
          type: "bar", xAxisIndex: 2, yAxisIndex: 2, silent: true, z: 3, barWidth: 3,
          data: oscBars.map((v, i) => ({
            value: v * OSC_UNIT,
            itemStyle: { color: i === 0 || v >= oscBars[i - 1] ? "#8aa63f" : "#f43a2a" },
          })),
        },
        {
          type: "line", xAxisIndex: 2, yAxisIndex: 2, silent: true, z: 4, showSymbol: false,
          data: [[0, 0], [lastBar, 0]], lineStyle: { color: "#6f9bf0", width: 1, type: [4, 3] },
        },
        tailSeries(2, [[0, "0", "#4f86f0", "#f0f0f0"], [oscLast, "-0.0022", "#7f9a36", "#1e1e1e"]], lastBar),
      ],
    });
    return () => chart.dispose();
  }, []);
  return <div ref={ref} style={{ position: "fixed", left: 0, top: 0, width: 1536, height: 773 }} />;
}
